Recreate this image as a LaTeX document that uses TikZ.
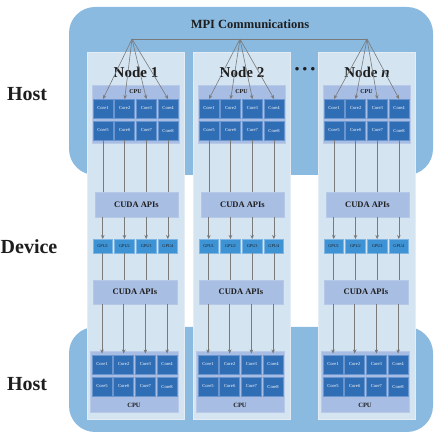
\documentclass[tikz,border=0pt]{standalone}
\usepackage{fontspec}
\setmainfont{Liberation Serif}
\usetikzlibrary{arrows.meta}
\definecolor{blobc}{HTML}{8BBAE1}
\definecolor{panelc}{HTML}{D4E4F1}
\definecolor{panelb}{HTML}{E4EDF6}
\definecolor{cpuc}{HTML}{A8BDE3}
\definecolor{corec}{HTML}{2F6DB5}
\definecolor{coreb}{HTML}{6A95CF}
\definecolor{gpuc}{HTML}{3E93D5}
\definecolor{gpub}{HTML}{7FB5E3}
\definecolor{cudac}{HTML}{A9BEE3}
\definecolor{linec}{HTML}{7A7A7A}
\definecolor{txtc}{HTML}{1E1E1E}
\tikzset{
  box/.style={anchor=north west, inner sep=0pt, outer sep=0pt},
  blob/.style={box, fill=blobc, rounded corners=26pt},
  panel/.style={box, fill=panelc, draw=panelb, line width=1pt, minimum width=97pt, minimum height=367pt},
  cpubox/.style={box, fill=cpuc, draw=cpuc!80!white, line width=0.6pt},
  core/.style={box, fill=corec, draw=coreb, line width=0.5pt, minimum width=20pt, minimum height=19pt,
    text=white, font=\fontsize{4.6}{5}\selectfont},
  gpu/.style={box, fill=gpuc, draw=gpub, line width=0.5pt, minimum width=19.5pt, minimum height=14pt,
    text=txtc, font=\fontsize{4.3}{5}\selectfont},
  cuda/.style={box, fill=cudac, draw=cudac!85!white, line width=0.6pt, text=txtc,
    font=\bfseries\fontsize{8.5}{10}\selectfont},
  cpulab/.style={text=txtc, font=\bfseries\fontsize{6}{7}\selectfont, inner sep=0pt},
  nodelab/.style={text=txtc, font=\bfseries\fontsize{15}{17}\selectfont, inner sep=0pt},
  sidelab/.style={text=txtc, font=\bfseries\fontsize{20}{22}\selectfont, inner sep=0pt},
  conn/.style={draw=linec, line width=0.6pt},
  arr/.style={conn, -{Stealth[length=4pt,width=3.6pt]}},
}
\begin{document}
\begin{tikzpicture}[x=1pt,y=-1pt]
\useasboundingbox (0,0) rectangle (440,438);
\node[blob, minimum width=364pt, minimum height=168pt] (hostTop) at (69,7) {};
\node[blob, minimum width=364pt, minimum height=105pt] (hostBot) at (69,327) {};

\node[sidelab] (labHost1) at (27,94) {Host};
\node[sidelab] (labDev) at (29,247) {Device};
\node[sidelab] (labHost2) at (27,384) {Host};

\node[text=txtc, font=\bfseries\fontsize{12.5}{14}\selectfont, inner sep=0pt] (mpi) at (250,24) {MPI Communications};
\node[text=txtc, font=\bfseries\fontsize{13}{14}\selectfont, inner sep=0pt] (dots) at (305,70) {• • •};

\foreach \L/\F/\id/\lab in {87/132/a/{Node 1}, 193/240/b/{Node 2}, 318/367/c/{Node \textit{n}}}{
  \pgfmathsetmacro\xc{\L+49}
  \pgfmathsetmacro\xcpuT{\L+5}
  \pgfmathsetmacro\xcpuTl{\L+48.5}
  \pgfmathsetmacro\xcpuB{\L+3}
  \pgfmathsetmacro\xcpuBl{\L+47}
  \pgfmathsetmacro\xcudaA{\L+8}
  \pgfmathsetmacro\xcudaB{\L+6}
  \node[panel] (p\id) at (\L,53) {};
  \node[nodelab] (lab\id) at (\xc,72) {\lab};
  \coordinate (mpi\id) at (\F,39);
  % top CPU
  \node[cpubox, minimum width=87pt, minimum height=58pt] (cpuT\id) at (\xcpuT,85) {};
  \node[cpulab] (cpuTl\id) at (\xcpuTl,91.5) {CPU};
  % bottom CPU
  \node[cpubox, minimum width=88pt, minimum height=61pt] (cpuB\id) at (\xcpuB,351) {};
  \node[cpulab, font=\bfseries\fontsize{6.5}{7}\selectfont] (cpuBl\id) at (\xcpuBl,405) {CPU};
  % CUDA boxes
  \node[cuda, minimum width=83pt, minimum height=25pt] (cudaA\id) at (\xcudaA,192) {};
  \node[cuda, anchor=center, fill=none, draw=none] (cudaAl\id) at (cudaA\id.center) {CUDA APIs};
  \node[cuda, minimum width=84pt, minimum height=24pt] (cudaB\id) at (\xcudaB,280) {};
  \node[cuda, anchor=center, fill=none, draw=none] (cudaBl\id) at (cudaB\id.center) {CUDA APIs};
  \foreach \i in {1,...,4}{
    \pgfmathtruncatemacro\j{\i+4}
    \pgfmathsetmacro\xa{\L+6+(\i-1)*21.7}
    \pgfmathsetmacro\xb{\L+5+(\i-1)*21.7}
    \node[core] (c\id\i) at (\xa,99) {Core\i};
    \node[core] (c\id\j) at (\xa,121) {Core\j};
    \node[gpu] (g\id\i) at (\xa,239) {GPU\i};
    \node[core] (bc\id\i) at (\xb,355) {Core\i};
    \node[core] (bc\id\j) at (\xb,377) {Core\j};
  }
}
\draw[conn] (mpia) -- (mpic);
\foreach \id in {a,b,c}{
  \foreach \i in {1,...,4}{
    \pgfmathtruncatemacro\j{\i+4}
    \draw[arr] (mpi\id) -- (c\id\i.north);
    \draw[conn] (c\id\j.south) -- (c\id\j.south |- cudaA\id.north);
    \draw[arr] (g\id\i.north |- cudaA\id.south) -- (g\id\i.north);
    \draw[conn] (g\id\i.south) -- (g\id\i.south |- cudaB\id.north);
    \draw[arr] (bc\id\i.north |- cudaB\id.south) -- ([yshift=1.5pt]bc\id\i.north);
  }
}
\end{tikzpicture}
\end{document}
